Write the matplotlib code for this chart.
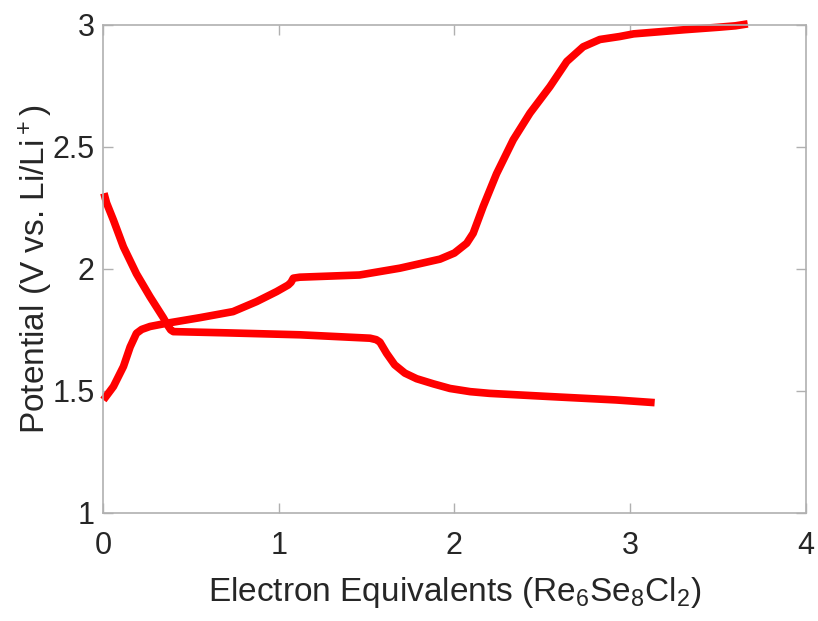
import matplotlib
matplotlib.use('Agg')
import matplotlib.pyplot as plt

# discharge curve (potential drops while lithium goes in)
dis_x = [0.005, 0.02, 0.059, 0.116, 0.19, 0.267, 0.343, 0.372, 0.385, 0.40, 0.70, 1.12,
         1.405, 1.52, 1.555, 1.576, 1.614, 1.66, 1.718, 1.785, 1.88, 1.975, 2.09, 2.20,
         2.54, 2.92, 3.14]
dis_y = [2.31, 2.27, 2.20, 2.09, 1.98, 1.886, 1.80, 1.764, 1.75, 1.743, 1.738, 1.730,
         1.720, 1.716, 1.71, 1.70, 1.654, 1.607, 1.573, 1.55, 1.529, 1.51, 1.497, 1.49,
         1.477, 1.463, 1.452]

# charge curve
chg_x = [0.002, 0.059, 0.116, 0.154, 0.19, 0.22, 0.267, 0.36, 0.55, 0.74, 0.874, 0.988,
         1.054, 1.07, 1.083, 1.12, 1.46, 1.69, 1.918, 2.00, 2.07, 2.107, 2.164, 2.24,
         2.335, 2.43, 2.544, 2.64, 2.733, 2.828, 2.94, 3.02, 3.31, 3.50, 3.60, 3.67]
chg_y = [1.463, 1.518, 1.60, 1.68, 1.736, 1.752, 1.764, 1.777, 1.80, 1.825, 1.866, 1.907,
         1.934, 1.945, 1.962, 1.966, 1.975, 2.003, 2.04, 2.065, 2.105, 2.146, 2.256, 2.39,
         2.529, 2.638, 2.747, 2.85, 2.91, 2.94, 2.952, 2.963, 2.98, 2.99, 2.996, 3.004]

x_ticks = [0, 1, 2, 3, 4]
y_ticks = [1, 1.5, 2, 2.5, 3]

plt.rcParams['font.family'] = ['Liberation Sans', 'DejaVu Sans']
plt.rcParams['mathtext.default'] = 'regular'

fig = plt.figure(figsize=(8.18, 6.21), dpi=100)
ax = fig.add_axes([0.126, 0.174, 0.859, 0.786])

for xs, ys in [(dis_x, dis_y), (chg_x, chg_y)]:
    ax.plot(xs, ys, color='#ff0000', lw=5.5, solid_capstyle='butt',
            solid_joinstyle='round', clip_on=False)

ax.set_xlim(0, 4)
ax.set_ylim(1, 3)
ax.set_xticks(x_ticks)
ax.set_yticks(y_ticks)
ax.set_xticklabels([str(t) for t in x_ticks])
ax.set_yticklabels(['1', '1.5', '2', '2.5', '3'])

for s in ax.spines.values():
    s.set_color('#b0b0b0')
    s.set_linewidth(1.2)
ax.tick_params(direction='in', length=7, width=1, color='#b0b0b0',
               top=True, right=True, labelsize=22, labelcolor='#262626')
ax.tick_params(axis='x', pad=13)
ax.tick_params(axis='y', pad=6)

ax.set_xlabel('Electron Equivalents (Re$_6$Se$_8$Cl$_2$)', fontsize=24,
              color='#262626')
ax.set_ylabel('Potential (V vs. Li/Li$^+$)', fontsize=24, color='#262626')
ax.xaxis.set_label_coords(0.5, -0.127)
ax.yaxis.set_label_coords(-0.068, 0.5)

fig.savefig('out.png', dpi=100)
